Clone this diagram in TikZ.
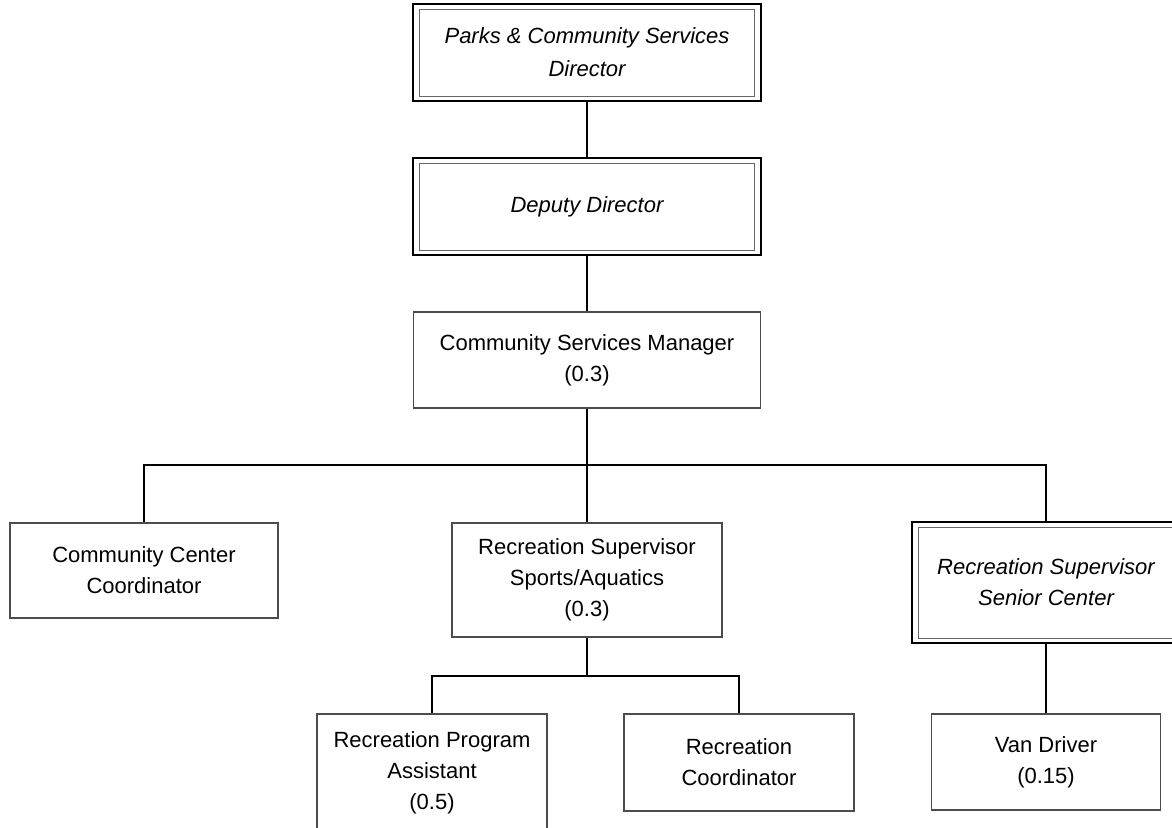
\documentclass[tikz,border=0pt]{standalone}
\usepackage{fontspec}
\setmainfont{Liberation Sans}
\begin{document}
\begin{tikzpicture}[x=0.5pt,y=-0.5pt,
  every node/.style={font=\fontsize{11}{15.5}\selectfont, align=center, inner sep=0pt},
  plainbox/.style={draw=black!70, line width=0.55pt},
  framedbox/.style={draw=black, line width=1.1pt, font=\fontsize{11}{15.5}\selectfont\itshape},
  innerframe/.style={draw=black!60, line width=0.45pt},
  link/.style={draw=black, line width=1pt}]
  \fill[white] (0,0) rectangle (1172,828);
  \clip (0,0) rectangle (1172,828);

  % top of the hierarchy
  \node[framedbox, minimum width=174pt, minimum height=48.5pt,
        font=\fontsize{11}{16.5}\selectfont\itshape] (dir) at (587,52.5)
        {Parks \& Community Services\\Director};
  \node[framedbox, minimum width=174pt, minimum height=48.5pt] (dep) at (587,206.5)
        {Deputy Director};
  \node[plainbox, minimum width=173.5pt, minimum height=48pt] (csm) at (587,360)
        {Community Services Manager\\(0.3)};

  % second row
  \node[plainbox, minimum width=134pt, minimum height=47.5pt] (ccc) at (144,570.5)
        {Community Center\\Coordinator};
  \node[plainbox, minimum width=135pt, minimum height=57pt] (rss) at (587,580)
        {Recreation Supervisor\\Sports/Aquatics\\(0.3)};
  \node[framedbox, minimum width=134pt, minimum height=60.5pt] (rsc) at (1046,582.5)
        {Recreation Supervisor\\Senior Center};

  % third row
  \node[plainbox, minimum width=115pt, minimum height=59pt] (rpa) at (432,773)
        {Recreation Program\\Assistant\\(0.5)};
  \node[plainbox, minimum width=115pt, minimum height=48.5pt] (rco) at (739,762.5)
        {Recreation\\Coordinator};
  \node[plainbox, minimum width=114.5pt, minimum height=48pt] (van) at (1046,762)
        {Van Driver\\(0.15)};

  % thin inner frames of the double-bordered boxes
  \foreach \n in {dir,dep,rsc}
    \draw[innerframe] ([xshift=4pt,yshift=-3.5pt]\n.north west)
      rectangle ([xshift=-4pt,yshift=3pt]\n.south east);

  % reporting lines
  \coordinate (j1) at (587,465);
  \coordinate (j2) at (587,676);
  \draw[link] (dir.south) -- (dep.north);
  \draw[link] (dep.south) -- (csm.north);
  \draw[link] (csm.south) -- (j1);
  \draw[link] (ccc.north) |- (j1) -| (rsc.north);
  \draw[link] (j1) -- (rss.north);
  \draw[link] (rss.south) -- (j2);
  \draw[link] (rpa.north) |- (j2) -| (rco.north);
  \draw[link] (rsc.south) -- (van.north);
\end{tikzpicture}
\end{document}
